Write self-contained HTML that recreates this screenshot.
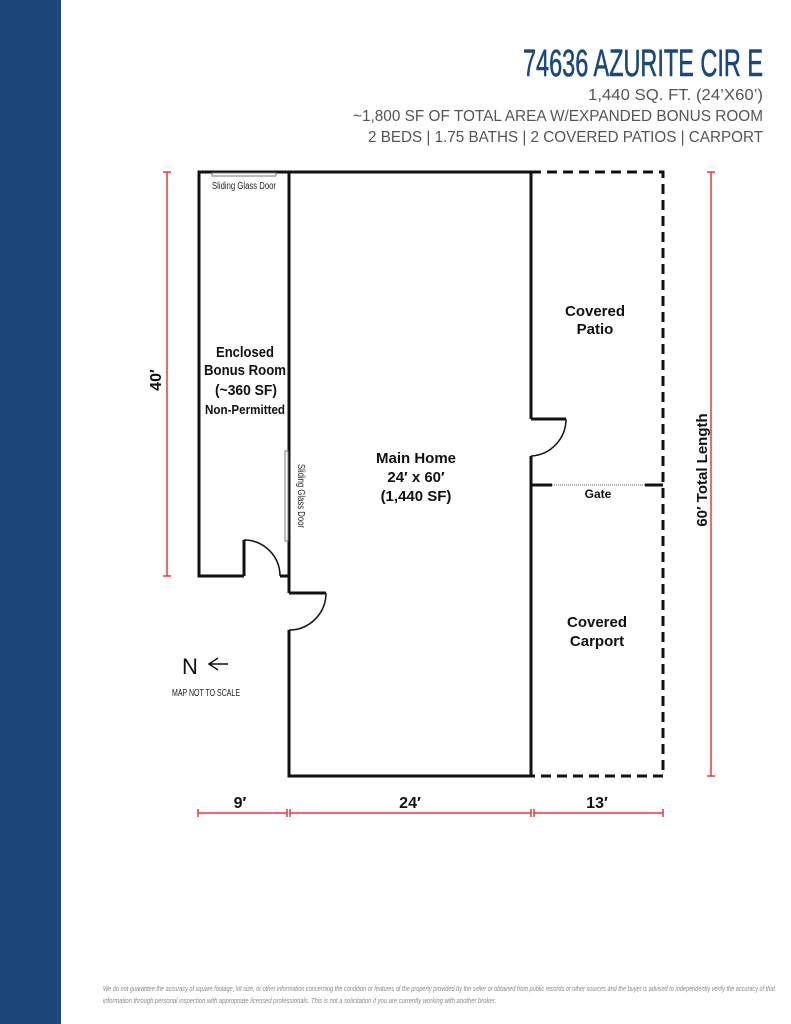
<!DOCTYPE html>
<html><head><style>body{margin:0;background:#fff}svg{display:block}</style></head><body>
<svg width="791" height="1024" viewBox="0 0 791 1024" xmlns="http://www.w3.org/2000/svg" font-family="Liberation Sans, sans-serif">
<rect x="0" y="0" width="61" height="1024" fill="#1b477b"/>
<text x="763" y="76" text-anchor="end" font-size="38" fill="#1b477b" stroke="#1b477b" stroke-width="0.6" textLength="240" lengthAdjust="spacingAndGlyphs">74636 AZURITE CIR E</text>
<g fill="#555" font-size="16" text-anchor="end">
<text x="763" y="100" textLength="175" lengthAdjust="spacingAndGlyphs">1,440 SQ. FT. (24’X60’)</text>
<text x="763" y="121" textLength="410" lengthAdjust="spacingAndGlyphs">~1,800 SF OF TOTAL AREA W/EXPANDED BONUS ROOM</text>
<text x="763" y="142" textLength="395" lengthAdjust="spacingAndGlyphs">2 BEDS | 1.75 BATHS | 2 COVERED PATIOS | CARPORT</text>
</g>
<g stroke="#111" stroke-width="3" fill="none">
<polyline points="289,576 289,172 531,172 531,419"/>
<polyline points="531,456 531,776 289,776 289,630"/>
<polyline points="289,593 289,576 280,576"/>
<polyline points="244,576 199,576 199,172 289,172"/>
<line x1="244" y1="576" x2="244" y2="540"/>
<line x1="289" y1="593" x2="326" y2="593"/>
<line x1="531" y1="419" x2="566" y2="419"/>
<line x1="531" y1="485" x2="552" y2="485"/>
<line x1="645" y1="485" x2="663" y2="485"/>
</g>
<g stroke="#111" stroke-width="1.5" fill="none">
<path d="M244,540 A36,36 0 0 1 280,576"/>
<path d="M326,593 A37,37 0 0 1 289,630"/>
<path d="M566,419 A37,37 0 0 1 531,456"/>
</g>
<line x1="552" y1="485" x2="645" y2="485" stroke="#aaa" stroke-width="2" stroke-dasharray="1,1"/>
<rect x="212" y="173" width="64" height="3" fill="none" stroke="#777" stroke-width="1"/>
<rect x="285" y="451" width="3" height="90" fill="none" stroke="#777" stroke-width="1"/>
<path d="M531,172 H663 V776 H531" stroke="#111" stroke-width="3" fill="none" stroke-dasharray="10,6"/>
<g fill="#111" font-weight="bold" text-anchor="middle" font-size="15">
<text x="245" y="357" textLength="58" lengthAdjust="spacingAndGlyphs">Enclosed</text>
<text x="245" y="375" textLength="82" lengthAdjust="spacingAndGlyphs">Bonus Room</text>
<text x="246" y="395" textLength="62" lengthAdjust="spacingAndGlyphs">(~360 SF)</text>
<text x="245" y="414" font-size="12.5" textLength="80" lengthAdjust="spacingAndGlyphs">Non-Permitted</text>
<text x="416" y="463">Main Home</text>
<text x="416" y="482">24′ x 60′</text>
<text x="416" y="501">(1,440 SF)</text>
<text x="595" y="316">Covered</text>
<text x="595" y="334">Patio</text>
<text x="598" y="498" font-size="12">Gate</text>
<text x="597" y="627">Covered</text>
<text x="597" y="646">Carport</text>
<text x="240" y="808" font-size="16">9′</text>
<text x="410" y="808" font-size="16">24′</text>
<text x="597" y="808" font-size="16">13′</text>
</g>
<text x="244" y="189" text-anchor="middle" font-size="10" fill="#222" textLength="64" lengthAdjust="spacingAndGlyphs">Sliding Glass Door</text>
<text transform="translate(298,496) rotate(90)" text-anchor="middle" font-size="10" fill="#222" textLength="64" lengthAdjust="spacingAndGlyphs">Sliding Glass Door</text>
<g stroke="#e8393b" stroke-width="1.5" fill="none">
<line x1="167" y1="172" x2="167" y2="576"/><line x1="163" y1="172" x2="171" y2="172"/><line x1="163" y1="576" x2="171" y2="576"/>
<line x1="711" y1="172" x2="711" y2="776"/><line x1="707" y1="172" x2="715" y2="172"/><line x1="707" y1="776" x2="715" y2="776"/>
<line x1="198" y1="813" x2="287" y2="813"/><line x1="290" y1="813" x2="531" y2="813"/><line x1="534" y1="813" x2="663" y2="813"/>
<line x1="198" y1="809" x2="198" y2="817"/><line x1="287" y1="809" x2="287" y2="817"/><line x1="290" y1="809" x2="290" y2="817"/>
<line x1="531" y1="809" x2="531" y2="817"/><line x1="534" y1="809" x2="534" y2="817"/><line x1="663" y1="809" x2="663" y2="817"/>
</g>
<text transform="translate(161,380) rotate(-90)" text-anchor="middle" font-size="16" font-weight="bold" fill="#111">40′</text>
<text transform="translate(707,470) rotate(-90)" text-anchor="middle" font-size="15" font-weight="bold" fill="#111">60′ Total Length</text>
<text x="190" y="674" text-anchor="middle" font-size="22" fill="#111">N</text>
<path d="M228,664 H210 M218,658 L209,664 L218,670" stroke="#111" stroke-width="1.5" fill="none"/>
<text x="206" y="696" text-anchor="middle" font-size="10" fill="#222" textLength="68" lengthAdjust="spacingAndGlyphs">MAP NOT TO SCALE</text>
<g fill="#888" font-size="7" font-style="italic">
<text x="103" y="991" textLength="672" lengthAdjust="spacingAndGlyphs">We do not guarantee the accuracy of square footage, lot size, or other information concerning the condition or features of the property provided by the seller or obtained from public records or other sources and the buyer is advised to independently verify the accuracy of that</text>
<text x="103" y="1003" textLength="393" lengthAdjust="spacingAndGlyphs">information through personal inspection with appropriate licensed professionals.  This is not a solicitation if you are currently working with another broker.</text>
</g>
</svg>
</body></html>
